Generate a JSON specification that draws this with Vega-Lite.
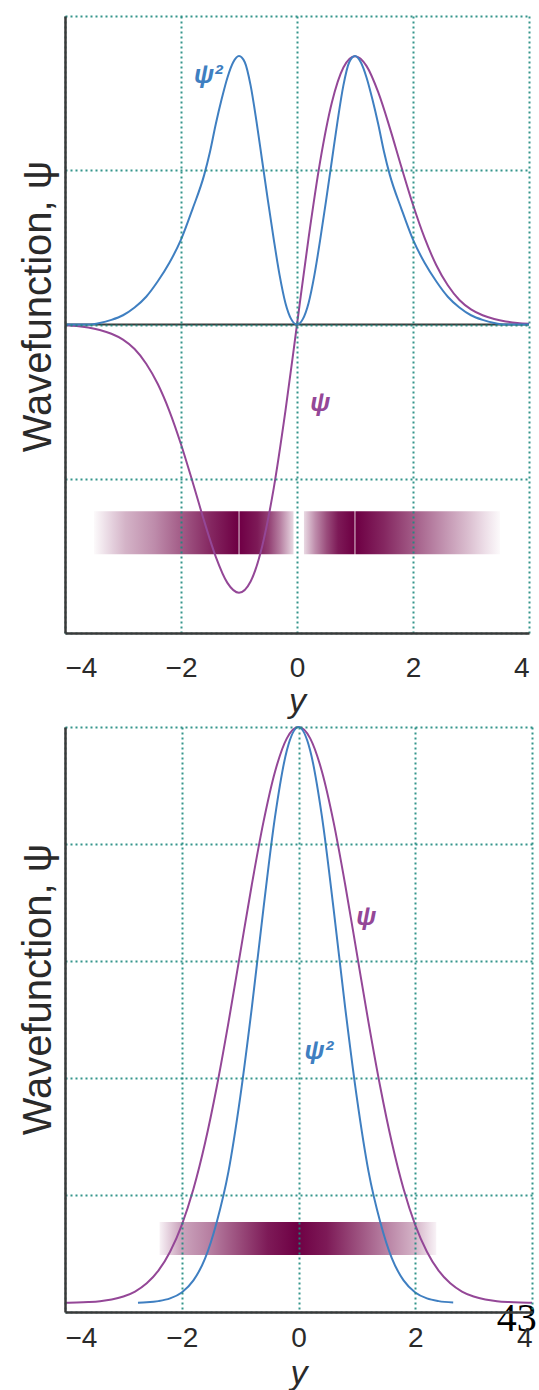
{
  "$schema": "https://vega.github.io/schema/vega-lite/v6.json",
  "background": "white",
  "padding": {"left": 17, "top": 16, "right": 0, "bottom": 0},
  "spacing": 5,
  "config": {
    "view": {"stroke": null},
    "font": "Liberation Sans",
    "axis": {
      "domainColor": "#3a3a3a", "domainWidth": 2.5, "ticks": false,
      "gridColor": "#1e8a7e", "gridDash": [2, 3], "gridWidth": 2, "gridOpacity": 0.9,
      "labelFont": "Liberation Sans", "labelFontSize": 28, "labelColor": "#2a2a2a",
      "titleFont": "Liberation Sans", "titleColor": "#2a2a2a", "titleFontWeight": "normal"
    }
  },
  "datasets": {
    "top_lines": [
      {"x": -4.0, "v": -0.005, "s": "psi"}, {"x": -3.8, "v": -0.01, "s": "psi"}, {"x": -3.6, "v": -0.02, "s": "psi"}, {"x": -3.4, "v": -0.036, "s": "psi"}, {"x": -3.2, "v": -0.06, "s": "psi"}, {"x": -3.0, "v": -0.098, "s": "psi"}, {"x": -2.8, "v": -0.159, "s": "psi"}, {"x": -2.6, "v": -0.254, "s": "psi"}, {"x": -2.4, "v": -0.386, "s": "psi"}, {"x": -2.2, "v": -0.561, "s": "psi"}, {"x": -2.0, "v": -0.776, "s": "psi"}, {"x": -1.8, "v": -1.021, "s": "psi"}, {"x": -1.6, "v": -1.275, "s": "psi"}, {"x": -1.4, "v": -1.506, "s": "psi"}, {"x": -1.2, "v": -1.675, "s": "psi"}, {"x": -1.0, "v": -1.739, "s": "psi"}, {"x": -0.8, "v": -1.666, "s": "psi"}, {"x": -0.6, "v": -1.437, "s": "psi"}, {"x": -0.4, "v": -1.059, "s": "psi"}, {"x": -0.2, "v": -0.562, "s": "psi"}, {"x": 0.0, "v": 0.0, "s": "psi"}, {"x": 0.2, "v": 0.562, "s": "psi"}, {"x": 0.4, "v": 1.059, "s": "psi"}, {"x": 0.6, "v": 1.437, "s": "psi"}, {"x": 0.8, "v": 1.666, "s": "psi"}, {"x": 1.0, "v": 1.739, "s": "psi"}, {"x": 1.2, "v": 1.675, "s": "psi"}, {"x": 1.4, "v": 1.506, "s": "psi"}, {"x": 1.6, "v": 1.275, "s": "psi"}, {"x": 1.8, "v": 1.021, "s": "psi"}, {"x": 2.0, "v": 0.776, "s": "psi"}, {"x": 2.2, "v": 0.561, "s": "psi"}, {"x": 2.4, "v": 0.386, "s": "psi"}, {"x": 2.6, "v": 0.254, "s": "psi"}, {"x": 2.8, "v": 0.159, "s": "psi"}, {"x": 3.0, "v": 0.098, "s": "psi"}, {"x": 3.2, "v": 0.06, "s": "psi"}, {"x": 3.4, "v": 0.036, "s": "psi"}, {"x": 3.6, "v": 0.02, "s": "psi"}, {"x": 3.8, "v": 0.01, "s": "psi"}, {"x": 4.0, "v": 0.005, "s": "psi"},
      {"x": -4.0, "v": 0, "s": "psi2"}, {"x": -3.8, "v": 0, "s": "psi2"}, {"x": -3.6, "v": 0.0, "s": "psi2"}, {"x": -3.4, "v": 0.01, "s": "psi2"}, {"x": -3.2, "v": 0.03, "s": "psi2"}, {"x": -3.0, "v": 0.06, "s": "psi2"}, {"x": -2.8, "v": 0.11, "s": "psi2"}, {"x": -2.6, "v": 0.18, "s": "psi2"}, {"x": -2.4, "v": 0.28, "s": "psi2"}, {"x": -2.2, "v": 0.4, "s": "psi2"}, {"x": -2.0, "v": 0.55, "s": "psi2"}, {"x": -1.8, "v": 0.75, "s": "psi2"}, {"x": -1.6, "v": 0.97, "s": "psi2"}, {"x": -1.5, "v": 1.12, "s": "psi2"}, {"x": -1.4, "v": 1.3, "s": "psi2"}, {"x": -1.3, "v": 1.46, "s": "psi2"}, {"x": -1.2, "v": 1.6, "s": "psi2"}, {"x": -1.1, "v": 1.7, "s": "psi2"}, {"x": -1.0, "v": 1.74, "s": "psi2"}, {"x": -0.9, "v": 1.7, "s": "psi2"}, {"x": -0.8, "v": 1.55, "s": "psi2"}, {"x": -0.7, "v": 1.32, "s": "psi2"}, {"x": -0.6, "v": 1.06, "s": "psi2"}, {"x": -0.5, "v": 0.8, "s": "psi2"}, {"x": -0.4, "v": 0.55, "s": "psi2"}, {"x": -0.3, "v": 0.32, "s": "psi2"}, {"x": -0.2, "v": 0.14, "s": "psi2"}, {"x": -0.1, "v": 0.035, "s": "psi2"}, {"x": 0.0, "v": 0.0, "s": "psi2"}, {"x": 0.1, "v": 0.035, "s": "psi2"}, {"x": 0.2, "v": 0.14, "s": "psi2"}, {"x": 0.3, "v": 0.32, "s": "psi2"}, {"x": 0.4, "v": 0.55, "s": "psi2"}, {"x": 0.5, "v": 0.8, "s": "psi2"}, {"x": 0.6, "v": 1.06, "s": "psi2"}, {"x": 0.7, "v": 1.32, "s": "psi2"}, {"x": 0.8, "v": 1.55, "s": "psi2"}, {"x": 0.9, "v": 1.7, "s": "psi2"}, {"x": 1.0, "v": 1.74, "s": "psi2"}, {"x": 1.1, "v": 1.7, "s": "psi2"}, {"x": 1.2, "v": 1.6, "s": "psi2"}, {"x": 1.3, "v": 1.46, "s": "psi2"}, {"x": 1.4, "v": 1.3, "s": "psi2"}, {"x": 1.5, "v": 1.12, "s": "psi2"}, {"x": 1.6, "v": 0.97, "s": "psi2"}, {"x": 1.8, "v": 0.75, "s": "psi2"}, {"x": 2.0, "v": 0.55, "s": "psi2"}, {"x": 2.2, "v": 0.4, "s": "psi2"}, {"x": 2.4, "v": 0.28, "s": "psi2"}, {"x": 2.6, "v": 0.18, "s": "psi2"}, {"x": 2.8, "v": 0.11, "s": "psi2"}, {"x": 3.0, "v": 0.06, "s": "psi2"}, {"x": 3.2, "v": 0.03, "s": "psi2"}, {"x": 3.4, "v": 0.01, "s": "psi2"}, {"x": 3.6, "v": 0.0, "s": "psi2"}, {"x": 3.8, "v": 0, "s": "psi2"}, {"x": 4.0, "v": 0, "s": "psi2"}
    ],
    "bot_lines": [
      {"x": -4.0, "v": 0.079, "s": "psi"}, {"x": -3.8, "v": 0.081, "s": "psi"}, {"x": -3.6, "v": 0.085, "s": "psi"}, {"x": -3.4, "v": 0.092, "s": "psi"}, {"x": -3.2, "v": 0.106, "s": "psi"}, {"x": -3.0, "v": 0.132, "s": "psi"}, {"x": -2.8, "v": 0.175, "s": "psi"}, {"x": -2.6, "v": 0.245, "s": "psi"}, {"x": -2.4, "v": 0.353, "s": "psi"}, {"x": -2.2, "v": 0.515, "s": "psi"}, {"x": -2.0, "v": 0.743, "s": "psi"}, {"x": -1.8, "v": 1.051, "s": "psi"}, {"x": -1.6, "v": 1.446, "s": "psi"}, {"x": -1.4, "v": 1.925, "s": "psi"}, {"x": -1.2, "v": 2.473, "s": "psi"}, {"x": -1.0, "v": 3.063, "s": "psi"}, {"x": -0.8, "v": 3.652, "s": "psi"}, {"x": -0.6, "v": 4.189, "s": "psi"}, {"x": -0.4, "v": 4.622, "s": "psi"}, {"x": -0.2, "v": 4.903, "s": "psi"}, {"x": 0.0, "v": 5.0, "s": "psi"}, {"x": 0.2, "v": 4.903, "s": "psi"}, {"x": 0.4, "v": 4.622, "s": "psi"}, {"x": 0.6, "v": 4.189, "s": "psi"}, {"x": 0.8, "v": 3.652, "s": "psi"}, {"x": 1.0, "v": 3.063, "s": "psi"}, {"x": 1.2, "v": 2.473, "s": "psi"}, {"x": 1.4, "v": 1.925, "s": "psi"}, {"x": 1.6, "v": 1.446, "s": "psi"}, {"x": 1.8, "v": 1.051, "s": "psi"}, {"x": 2.0, "v": 0.743, "s": "psi"}, {"x": 2.2, "v": 0.515, "s": "psi"}, {"x": 2.4, "v": 0.353, "s": "psi"}, {"x": 2.6, "v": 0.245, "s": "psi"}, {"x": 2.8, "v": 0.175, "s": "psi"}, {"x": 3.0, "v": 0.132, "s": "psi"}, {"x": 3.2, "v": 0.106, "s": "psi"}, {"x": 3.4, "v": 0.092, "s": "psi"}, {"x": 3.6, "v": 0.085, "s": "psi"}, {"x": 3.8, "v": 0.081, "s": "psi"}, {"x": 4.0, "v": 0.079, "s": "psi"},
      {"x": -2.75, "v": 0.08, "s": "psi2"}, {"x": -2.6, "v": 0.083, "s": "psi2"}, {"x": -2.4, "v": 0.093, "s": "psi2"}, {"x": -2.2, "v": 0.116, "s": "psi2"}, {"x": -2.0, "v": 0.167, "s": "psi2"}, {"x": -1.8, "v": 0.27, "s": "psi2"}, {"x": -1.6, "v": 0.458, "s": "psi2"}, {"x": -1.4, "v": 0.77, "s": "psi2"}, {"x": -1.2, "v": 1.2, "s": "psi2"}, {"x": -1.0, "v": 1.83, "s": "psi2"}, {"x": -0.8, "v": 2.6, "s": "psi2"}, {"x": -0.6, "v": 3.45, "s": "psi2"}, {"x": -0.4, "v": 4.24, "s": "psi2"}, {"x": -0.2, "v": 4.8, "s": "psi2"}, {"x": 0.0, "v": 5.0, "s": "psi2"}, {"x": 0.2, "v": 4.8, "s": "psi2"}, {"x": 0.4, "v": 4.24, "s": "psi2"}, {"x": 0.6, "v": 3.45, "s": "psi2"}, {"x": 0.8, "v": 2.6, "s": "psi2"}, {"x": 1.0, "v": 1.83, "s": "psi2"}, {"x": 1.2, "v": 1.2, "s": "psi2"}, {"x": 1.4, "v": 0.77, "s": "psi2"}, {"x": 1.6, "v": 0.458, "s": "psi2"}, {"x": 1.8, "v": 0.27, "s": "psi2"}, {"x": 2.0, "v": 0.167, "s": "psi2"}, {"x": 2.2, "v": 0.116, "s": "psi2"}, {"x": 2.4, "v": 0.093, "s": "psi2"}, {"x": 2.65, "v": 0.082, "s": "psi2"}
    ]
  },
  "vconcat": [
    {
      "width": 464,
      "height": 617,
      "encoding": {
        "x": {"field": "x", "type": "quantitative", "scale": {"domain": [-4, 4], "nice": false, "zero": false},
          "axis": {"values": [-4, -2, 0, 2, 4], "labelPadding": 21, "title": "y", "titleFontStyle": "italic", "titleFontSize": 34, "titlePadding": 2, "zindex": 1}},
        "y": {"field": "v", "type": "quantitative", "scale": {"domain": [-2, 2], "nice": false, "zero": false},
          "axis": {"values": [-2, -1, 0, 1, 2], "labels": false, "title": "Wavefunction, ψ", "titleFontSize": 40, "titleAngle": 270, "titleX": -27, "titleY": 290, "titleBaseline": "middle", "titleAlign": "center", "zindex": 1}}
      },
      "layer": [
        {
          "data": {"values": [{"x": -3.5, "x2": -0.06, "v": -1.21, "v2": -1.49}]},
          "mark": {"type": "rect", "strokeWidth": 0, "fill": {"gradient": "linear", "x1": 0, "y1": 0, "x2": 1, "y2": 0, "stops": [
            {"offset": 0, "color": "#fcfafb"}, {"offset": 0.1, "color": "#e2ccda"}, {"offset": 0.158, "color": "#d4b3c7"}, {"offset": 0.302, "color": "#be8cab"}, {"offset": 0.445, "color": "#a15985"}, {"offset": 0.589, "color": "#842660"}, {"offset": 0.72, "color": "#6e0044"}, {"offset": 0.727, "color": "#c9a2b9"}, {"offset": 0.734, "color": "#700046"}, {"offset": 0.819, "color": "#7d1a57"}, {"offset": 0.876, "color": "#924073"}, {"offset": 0.934, "color": "#b780a2"}, {"offset": 1, "color": "#e9d9e3"}]}},
          "encoding": {"x2": {"field": "x2"}, "y2": {"field": "v2"}}
        },
        {
          "data": {"values": [{"x": 0.12, "x2": 3.5, "v": -1.21, "v2": -1.49}]},
          "mark": {"type": "rect", "strokeWidth": 0, "fill": {"gradient": "linear", "x1": 0, "y1": 0, "x2": 1, "y2": 0, "stops": [
            {"offset": 0, "color": "#e9d9e3"}, {"offset": 0.058, "color": "#be8cab"}, {"offset": 0.116, "color": "#9a4d7c"}, {"offset": 0.174, "color": "#7d1a57"}, {"offset": 0.253, "color": "#6e0044"}, {"offset": 0.26, "color": "#c9a2b9"}, {"offset": 0.267, "color": "#6e0044"}, {"offset": 0.406, "color": "#842660"}, {"offset": 0.551, "color": "#a15985"}, {"offset": 0.696, "color": "#be8cab"}, {"offset": 0.841, "color": "#dbbfd0"}, {"offset": 0.928, "color": "#eee0e9"}, {"offset": 1, "color": "#fcfafb"}]}},
          "encoding": {"x2": {"field": "x2"}, "y2": {"field": "v2"}}
        },
        {
          "data": {"values": [{"x": -4, "v": 0}, {"x": 4, "v": 0}]},
          "mark": {"type": "line", "color": "#3a3a3a", "strokeWidth": 1.8},
          "encoding": {}
        },
        {
          "data": {"name": "top_lines"},
          "mark": {"type": "line", "interpolate": "monotone", "strokeWidth": 2},
          "encoding": {
            "color": {"field": "s", "type": "nominal", "scale": {"domain": ["psi", "psi2"], "range": ["#944797", "#3f7fc1"]}, "legend": null}
          }
        },
        {
          "data": {"values": [{"x": -1.53, "v": 1.62, "t": "ψ²", "s": "psi2"}, {"x": 0.4, "v": -0.51, "t": "ψ", "s": "psi"}]},
          "mark": {"type": "text", "fontSize": 26, "fontStyle": "italic", "fontWeight": "bold", "font": "Liberation Sans", "align": "center", "baseline": "middle"},
          "encoding": {
            "text": {"field": "t"},
            "color": {"field": "s", "type": "nominal", "scale": {"domain": ["psi", "psi2"], "range": ["#944797", "#3f7fc1"]}, "legend": null}
          }
        }
      ]
    },
    {
      "width": 467,
      "height": 585,
      "encoding": {
        "x": {"field": "x", "type": "quantitative", "scale": {"domain": [-4, 4], "nice": false, "zero": false},
          "axis": {"values": [-4, -2, 0, 2, 4], "labelPadding": 12, "title": "y", "titleFontStyle": "italic", "titleFontSize": 34, "titlePadding": 4, "zindex": 1}},
        "y": {"field": "v", "type": "quantitative", "scale": {"domain": [0, 5], "nice": false, "zero": false},
          "axis": {"values": [0, 1, 2, 3, 4, 5], "labels": false, "title": "Wavefunction, ψ", "titleFontSize": 40, "titleAngle": 270, "titleX": -27, "titleY": 262, "titleBaseline": "middle", "titleAlign": "center", "zindex": 1}}
      },
      "layer": [
        {
          "data": {"values": [{"x": -2.38, "x2": 2.36, "v": 0.77, "v2": 0.487}]},
          "mark": {"type": "rect", "strokeWidth": 0, "fill": {"gradient": "linear", "x1": 0, "y1": 0, "x2": 1, "y2": 0, "stops": [
            {"offset": 0, "color": "#f8f2f6"}, {"offset": 0.074, "color": "#cca6be"}, {"offset": 0.18, "color": "#b780a2"}, {"offset": 0.286, "color": "#9a4d7c"}, {"offset": 0.392, "color": "#7d1a57"}, {"offset": 0.498, "color": "#6e0044"}, {"offset": 0.604, "color": "#7d1a57"}, {"offset": 0.71, "color": "#9a4d7c"}, {"offset": 0.816, "color": "#b780a2"}, {"offset": 0.922, "color": "#d4b3c7"}, {"offset": 1, "color": "#f8f2f6"}]}},
          "encoding": {"x2": {"field": "x2"}, "y2": {"field": "v2"}}
        },
        {
          "data": {"name": "bot_lines"},
          "mark": {"type": "line", "interpolate": "monotone", "strokeWidth": 2},
          "encoding": {
            "color": {"field": "s", "type": "nominal", "scale": {"domain": ["psi", "psi2"], "range": ["#944797", "#3f7fc1"]}, "legend": null}
          }
        },
        {
          "data": {"values": [{"x": 1.16, "v": 3.38, "t": "ψ", "s": "psi"}, {"x": 0.35, "v": 2.23, "t": "ψ²", "s": "psi2"}]},
          "mark": {"type": "text", "fontSize": 26, "fontStyle": "italic", "fontWeight": "bold", "font": "Liberation Sans", "align": "center", "baseline": "middle"},
          "encoding": {
            "text": {"field": "t"},
            "color": {"field": "s", "type": "nominal", "scale": {"domain": ["psi", "psi2"], "range": ["#944797", "#3f7fc1"]}, "legend": null}
          }
        },
        {
          "data": {"values": [{"x": 3.74, "v": -0.16, "t": "43"}]},
          "mark": {"type": "text", "fontSize": 40, "font": "Liberation Serif", "color": "#000000", "align": "center", "baseline": "alphabetic"},
          "encoding": {"text": {"field": "t"}}
        }
      ]
    }
  ]
}
